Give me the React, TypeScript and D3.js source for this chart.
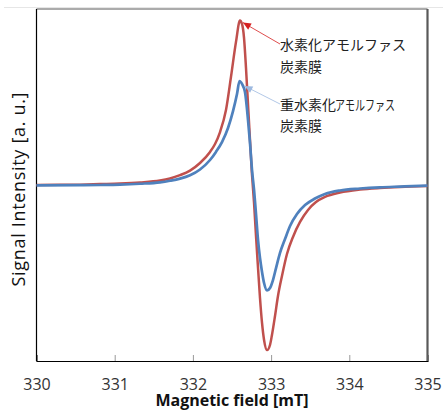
import * as d3 from "d3";
import { useEffect, useRef } from "react";

// field values [mT] and signal [a. u.]
const redField = [330.0, 330.301, 330.556, 330.812, 331.068, 331.324, 331.579, 331.707, 331.835, 331.963,
  332.091, 332.219, 332.283, 332.347, 332.423, 332.487, 332.551, 332.602, 332.628, 332.654, 332.679,
  332.705, 332.730, 332.756, 332.782, 332.807, 332.833, 332.858, 332.884, 332.910, 332.948, 332.986,
  333.011, 333.050, 333.088, 333.139, 333.203, 333.280, 333.370, 333.472, 333.574, 333.689, 333.881,
  334.136, 334.392, 334.648, 335.0];
const redSignal = [0.0, 0.001, 0.002, 0.005, 0.008, 0.014, 0.025, 0.037, 0.056, 0.082,
  0.125, 0.188, 0.233, 0.301, 0.426, 0.614, 0.813, 0.934, 0.915, 0.835, 0.665,
  0.455, 0.256, 0.057, -0.102, -0.290, -0.472, -0.642, -0.784, -0.881, -0.938, -0.909,
  -0.852, -0.744, -0.631, -0.517, -0.392, -0.295, -0.210, -0.142, -0.097, -0.068, -0.043,
  -0.026, -0.017, -0.011, -0.006];

const blueField = [330.0, 330.556, 330.812, 331.068, 331.324, 331.579, 331.707, 331.835, 331.963,
  332.091, 332.219, 332.295, 332.372, 332.449, 332.513, 332.564, 332.596, 332.628, 332.666, 332.705,
  332.730, 332.756, 332.782, 332.807, 332.833, 332.858, 332.884, 332.910, 332.948, 332.986, 333.024,
  333.063, 333.114, 333.178, 333.242, 333.331, 333.434, 333.561, 333.689, 333.881, 334.136, 334.392,
  334.648, 335.0];
const blueSignal = [-0.002, -0.001, 0.0, 0.002, 0.007, 0.015, 0.024, 0.036, 0.055,
  0.088, 0.142, 0.188, 0.244, 0.324, 0.420, 0.517, 0.591, 0.574, 0.528, 0.369,
  0.239, 0.085, -0.028, -0.165, -0.313, -0.415, -0.494, -0.557, -0.599, -0.585, -0.540,
  -0.472, -0.386, -0.307, -0.233, -0.165, -0.114, -0.077, -0.051, -0.031, -0.020, -0.013,
  -0.009, -0.004];

const xTicks = [330, 331, 332, 333, 334, 335];

const redLabel = ["水素化アモルファス", "炭素膜"];
const blueLabel = ["重水素化", "アモルファス", "炭素膜"];

const W = 443;
const H = 411;

export default function App() {
  const ref = useRef<SVGSVGElement>(null);

  useEffect(() => {
    const svg = d3.select(ref.current);
    svg.selectAll("*").remove();

    const left = 36.5, right = 427.5, top = 9, bottom = 361;
    const x = d3.scaleLinear().domain([330, 335]).range([left, right]);
    const y = d3.scaleLinear().domain([-1, 1]).range([bottom, top]);

    // chart area faint border
    svg.append("line")
      .attr("x1", 4).attr("x2", W).attr("y1", 7.5).attr("y2", 7.5)
      .attr("stroke", "#e6e6e6").attr("stroke-width", 1);

    // plot frame
    svg.append("line").attr("x1", left).attr("x2", right).attr("y1", top).attr("y2", top)
      .attr("stroke", "#595959").attr("stroke-width", 1.2);
    svg.append("line").attr("x1", right).attr("x2", right).attr("y1", top).attr("y2", bottom)
      .attr("stroke", "#595959").attr("stroke-width", 2.2);

    // x axis
    const sans = "'Open Sans', 'Noto Sans', sans-serif";
    const xAxis = d3.axisBottom(x).tickValues(xTicks).tickSize(-6).tickPadding(20)
      .tickFormat(d3.format("d"));
    const gx = svg.append("g").attr("transform", `translate(0,${bottom})`).call(xAxis);
    gx.select(".domain").attr("stroke", "#000").attr("stroke-width", 1.2);
    gx.selectAll(".tick line").attr("stroke", "#999");
    gx.selectAll(".tick text")
      .attr("font-family", sans).attr("font-size", 16).attr("fill", "#333")
      .attr("dy", null).attr("y", 28.5);

    // y axis line only
    svg.append("line").attr("x1", left).attr("x2", left).attr("y1", top).attr("y2", bottom)
      .attr("stroke", "#000").attr("stroke-width", 1.2);

    // curves
    const line = d3.line<[number, number]>()
      .x(d => x(d[0])).y(d => y(d[1]))
      .curve(d3.curveMonotoneX);

    const redData = redField.map((f, i) => [f, redSignal[i]] as [number, number]);
    const blueData = blueField.map((f, i) => [f, blueSignal[i]] as [number, number]);

    svg.append("path").datum(redData).attr("d", line)
      .attr("fill", "none").attr("stroke", "#C0504D").attr("stroke-width", 2.5)
      .attr("stroke-linejoin", "round");
    svg.append("path").datum(blueData).attr("d", line)
      .attr("fill", "none").attr("stroke", "#4F81BD").attr("stroke-width", 2.7)
      .attr("stroke-linejoin", "round");

    // annotation arrows
    const jp = "'Noto Sans CJK JP', sans-serif";
    const arrow = (x1: number, y1: number, x2: number, y2: number, color: string) => {
      svg.append("line").attr("x1", x1).attr("y1", y1).attr("x2", x2).attr("y2", y2)
        .attr("stroke", color).attr("stroke-width", 0.8);
      const ang = Math.atan2(y2 - y1, x2 - x1);
      const len = 8, wid = 3.5;
      const bx = x2 - len * Math.cos(ang), by = y2 - len * Math.sin(ang);
      const px = -Math.sin(ang) * wid, py = Math.cos(ang) * wid;
      svg.append("path")
        .attr("d", `M${x2},${y2}L${bx + px},${by + py}L${bx - px},${by - py}Z`)
        .attr("fill", color);
    };
    const redPeak = redData[17];
    const bluePeak = blueData[16];
    arrow(280, 44, x(redPeak[0]) + 3, y(redPeak[1]) + 2, "#D62020");
    arrow(280, 104, x(bluePeak[0]) + 5, y(bluePeak[1]) + 5, "#9DB9E0");

    svg.append("text").attr("x", 280).attr("y", 50).text(redLabel[0])
      .attr("font-family", jp).attr("font-size", 14).attr("fill", "#222");
    svg.append("text").attr("x", 280).attr("y", 72).text(redLabel[1])
      .attr("font-family", jp).attr("font-size", 14).attr("fill", "#222");

    svg.append("text").attr("x", 280).attr("y", 110).text(blueLabel[0])
      .attr("font-family", jp).attr("font-size", 14).attr("fill", "#222");
    svg.append("text").attr("x", 335).attr("y", 110).text(blueLabel[1])
      .attr("textLength", 60).attr("lengthAdjust", "spacingAndGlyphs")
      .attr("font-family", jp).attr("font-size", 14).attr("fill", "#222");
    svg.append("text").attr("x", 280).attr("y", 131).text(blueLabel[2])
      .attr("font-family", jp).attr("font-size", 14).attr("fill", "#222");

    // axis titles
    svg.append("text").attr("x", 232).attr("y", 406).attr("text-anchor", "middle")
      .attr("font-family", sans).attr("font-weight", "bold")
      .attr("font-size", 16).attr("fill", "#111").text("Magnetic field [mT]");
    svg.append("text")
      .attr("transform", `translate(24.5,189.5) rotate(-90)`).attr("text-anchor", "middle")
      .attr("font-family", sans).attr("font-size", 18)
      .attr("textLength", 194).attr("lengthAdjust", "spacing")
      .attr("fill", "#111").text("Signal Intensity [a. u.]");
  }, []);

  return (
    <div style={{ position: "fixed", left: 0, top: 0 }}>
      <svg ref={ref} width={W} height={H} style={{ display: "block", background: "#fff" }}></svg>
    </div>
  );
}
